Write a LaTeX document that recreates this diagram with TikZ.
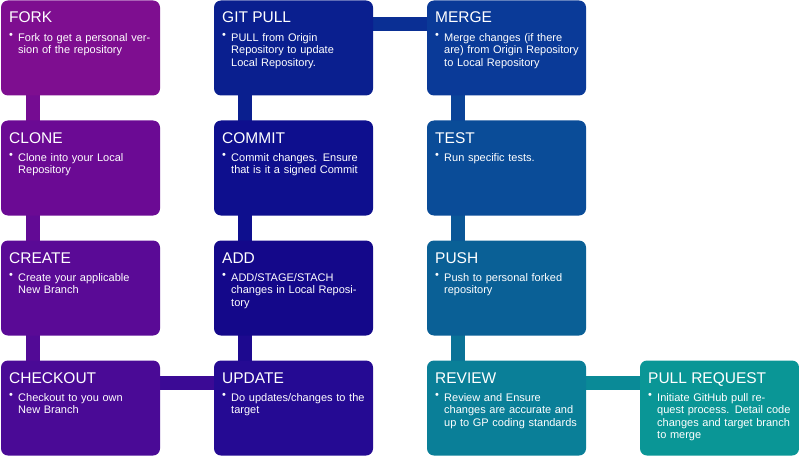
\documentclass[tikz,border=0pt]{standalone}
\usepackage{fontspec}
\setmainfont{Liberation Sans}
\begin{document}
\begin{tikzpicture}[x=1pt,y=-1pt,
 box/.style={draw=none,rounded corners=7pt,minimum width=159pt,minimum height=95pt,inner sep=0pt},
 ttl/.style={anchor=base west,text=white,font=\fontsize{15.5}{16}\selectfont,inner sep=0pt},
 txt/.style={anchor=north west,text=white,font=\fontsize{11}{12.6}\selectfont,inner sep=0pt,text width=142pt,align=left},
 blt/.style={anchor=north west,text=white,font=\fontsize{11}{12.6}\selectfont,inner sep=0pt},
 conn/.style={line width=14pt}]
\definecolor{cA}{HTML}{7E0E90}\definecolor{cB}{HTML}{6B0A94}\definecolor{cC}{HTML}{5A0A96}\definecolor{cD}{HTML}{4A0A96}
\definecolor{cE}{HTML}{0A1F8F}\definecolor{cF}{HTML}{0E0F8E}\definecolor{cG}{HTML}{14088A}\definecolor{cH}{HTML}{250A93}
\definecolor{cI}{HTML}{0A3A98}\definecolor{cJ}{HTML}{0A4C98}\definecolor{cK}{HTML}{0A6096}\definecolor{cL}{HTML}{0A7F98}\definecolor{cM}{HTML}{0A9696}
\useasboundingbox (0,0) rectangle (799,457);
% connectors
\draw[conn,cA!50!cB] (33,95) -- (33,121);
\draw[conn,cB!50!cC] (33,215) -- (33,241);
\draw[conn,cC!50!cD] (33,335) -- (33,361);
\draw[conn,cE] (245,95) -- (245,121);
\draw[conn,cF] (245,215) -- (245,241);
\draw[conn,cG!50!cH] (245,335) -- (245,361);
\draw[conn,cI!60!cE] (372,24) -- (427,24);
\draw[conn,cI!50!cJ] (458,95) -- (458,121);
\draw[conn,cJ!50!cK] (458,215) -- (458,241);
\draw[conn,cK!40!cL] (458,335) -- (458,361);
\draw[conn,cD!60!cH] (160,383) -- (214,383);
\draw[conn,cL!50!cM] (584,383) -- (640,383);
% boxes
\newcommand{\gbox}[7]{%
 \node[box,fill=#2] (#1) at (#3+79.5,#4+47) {};
 \node[ttl] (#1t) at (#3+8,#4+22) {#5};
 \node[blt] (#1b) at (#3+8,#4+32) {\textbullet};
 \node[txt,text width=#7] (#1x) at (#3+17,#4+32) {#6};}
\gbox{fork}{cA}{1}{1}{FORK}{Fork to get a personal version of the repository}{140pt}
\gbox{clone}{cB}{1}{121}{CLONE}{Clone into your Local Repository}{120pt}
\gbox{create}{cC}{1}{241}{CREATE}{Create your applicable New Branch}{125pt}
\gbox{checkout}{cD}{1}{361}{CHECKOUT}{Checkout to you own New Branch}{115pt}
\gbox{gitpull}{cE}{214}{1}{GIT PULL}{PULL from Origin Repository to update Local Repository.}{115pt}
\gbox{commit}{cF}{214}{121}{COMMIT}{Commit changes. Ensure that is it a signed Commit}{140pt}
\gbox{add}{cG}{214}{241}{ADD}{ADD/STAGE/STACH changes in Local Repository}{130pt}
\gbox{update}{cH}{214}{361}{UPDATE}{Do updates/changes to the target}{140pt}
\gbox{merge}{cI}{427}{1}{MERGE}{Merge changes (if there are) from Origin Repository to Local Repository}{135pt}
\gbox{test}{cJ}{427}{121}{TEST}{Run specific tests.}{140pt}
\gbox{push}{cK}{427}{241}{PUSH}{Push to personal forked repository}{140pt}
\gbox{review}{cL}{427}{361}{REVIEW}{Review and Ensure changes are accurate and up to GP coding standards}{135pt}
\gbox{pr}{cM}{640}{361}{PULL REQUEST}{Initiate GitHub pull request process. Detail code changes and target branch to merge}{145pt}
\end{tikzpicture}
\end{document}
